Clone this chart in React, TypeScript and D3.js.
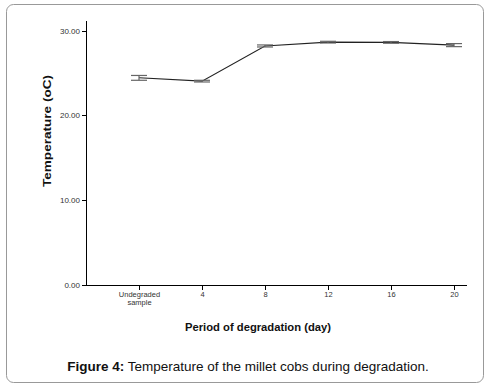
import React from "react";
import * as d3 from "d3";

const categories = ["Undegraded sample", "4", "8", "12", "16", "20"];
const means = [24.45, 24.05, 28.2, 28.65, 28.62, 28.3];
const lower = [24.15, 23.95, 28.08, 28.55, 28.52, 28.12];
const upper = [24.72, 24.15, 28.32, 28.75, 28.72, 28.48];
const yTicks = [0, 10, 20, 30];

export default function App() {
  const x = d3.scalePoint<string>().domain(categories).range([139, 454]);
  const y = d3.scaleLinear().domain([0, 30]).range([285, 30.7]);
  const line = d3
    .line<number>()
    .x((_, i) => x(categories[i]) as number)
    .y((d) => y(d));
  const font = "'Liberation Sans', Arial, sans-serif";
  return (
    <svg
      width={491}
      height={387}
      style={{ position: "absolute", left: 0, top: 0, background: "#fff" }}
      fontFamily={font}
    >
      <rect x={6.5} y={4.5} width={477} height={378} rx={7} fill="#fff" stroke="#999" strokeWidth={1} />
      {/* axes */}
      <line x1={86.5} x2={86.5} y1={21} y2={285.5} stroke="#000" strokeWidth={1} />
      <line x1={86} x2={467} y1={285.5} y2={285.5} stroke="#000" strokeWidth={1} />
      {yTicks.map((t) => (
        <g key={t}>
          <line x1={82} x2={86} y1={Math.round(y(t)) + 0.5} y2={Math.round(y(t)) + 0.5} stroke="#000" />
          <text x={80} y={y(t) + 3} textAnchor="end" fontSize={8} fill="#333">
            {t.toFixed(2)}
          </text>
        </g>
      ))}
      {categories.map((c) => {
        const cx = Math.round(x(c) as number) + 0.5;
        const parts = c === "Undegraded sample" ? ["Undegraded", "sample"] : [c];
        return (
          <g key={c}>
            <line x1={cx} x2={cx} y1={285.5} y2={290} stroke="#000" />
            {parts.map((p, i) => (
              <text key={p} x={cx} y={297 + i * 7.5} textAnchor="middle" fontSize={7.5} fill="#333">
                {p}
              </text>
            ))}
          </g>
        );
      })}
      {/* line */}
      <path d={line(means) || ""} fill="none" stroke="#222" strokeWidth={1.1} />
      {/* error bars */}
      {categories.map((c, i) => {
        const cx = x(c) as number;
        return (
          <g key={c} stroke="#666" strokeWidth={1.2}>
            <line x1={cx} x2={cx} y1={y(lower[i])} y2={y(upper[i])} />
            <line x1={cx - 8} x2={cx + 8} y1={y(lower[i])} y2={y(lower[i])} />
            <line x1={cx - 8} x2={cx + 8} y1={y(upper[i])} y2={y(upper[i])} />
          </g>
        );
      })}
      <text
        transform="translate(51,131) rotate(-90)"
        textAnchor="middle"
        fontSize={11.5}
        fontWeight="bold"
        fill="#111"
        textLength={112}
        lengthAdjust="spacingAndGlyphs"
      >
        Temperature (oC)
      </text>
      <text
        x={258}
        y={331}
        textAnchor="middle"
        fontSize={11}
        fontWeight="bold"
        fill="#111"
        textLength={146}
        lengthAdjust="spacingAndGlyphs"
      >
        Period of degradation (day)
      </text>
      <text x={248} y={371} textAnchor="middle" fontSize={13.5} fill="#111">
        <tspan fontWeight="bold">Figure 4:</tspan> Temperature of the millet cobs during degradation.
      </text>
    </svg>
  );
}
